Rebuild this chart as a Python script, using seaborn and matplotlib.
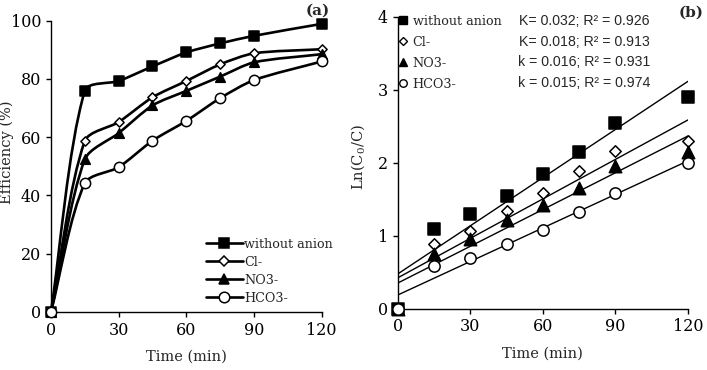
import numpy as np
import pandas as pd
import matplotlib
matplotlib.use("Agg")
import matplotlib.pyplot as plt
import seaborn as sns
from matplotlib.path import Path
from matplotlib.patches import PathPatch
from matplotlib.lines import Line2D

# ---------------- data ----------------
time_min = [0, 15, 30, 45, 60, 75, 90, 120]
series_names = ["without anion", "Cl-", "NO3-", "HCO3-"]

eff_without = [0, 76.0, 79.3, 84.3, 89.1, 92.2, 94.8, 98.9]
eff_cl = [0, 58.7, 65.2, 73.7, 79.3, 85.0, 88.8, 90.2]
eff_no3 = [0, 52.4, 61.4, 70.9, 75.9, 80.8, 85.7, 88.5]
eff_hco3 = [0, 44.2, 49.7, 58.8, 65.6, 73.4, 79.6, 86.0]

ln_without = [0, 1.09, 1.30, 1.54, 1.84, 2.15, 2.55, 2.90]
ln_cl = [0, 0.89, 1.06, 1.34, 1.58, 1.89, 2.16, 2.30]
ln_no3 = [0, 0.75, 0.96, 1.22, 1.42, 1.66, 1.95, 2.15]
ln_hco3 = [0, 0.59, 0.70, 0.89, 1.08, 1.32, 1.59, 1.99]

fit_labels = ["K= 0.032; R\u00b2 = 0.926", "K= 0.018; R\u00b2 = 0.913",
              "k = 0.016; R\u00b2 = 0.931", "k = 0.015; R\u00b2 = 0.974"]

x_ticks = [0, 30, 60, 90, 120]
eff_ticks = [0, 20, 40, 60, 80, 100]
ln_ticks = [0, 1, 2, 3, 4]

# ---------------- style ----------------
sns.set_style("ticks")
plt.rcParams["font.family"] = ["DejaVu Serif"]
plt.rcParams["mathtext.fontset"] = "dejavuserif"
plt.rcParams["axes.linewidth"] = 1.0
plt.rcParams["xtick.major.width"] = 1.0
plt.rcParams["ytick.major.width"] = 1.0
plt.rcParams["xtick.major.size"] = 3.5
plt.rcParams["ytick.major.size"] = 3.5
plt.rcParams["xtick.color"] = "black"
plt.rcParams["ytick.color"] = "black"
plt.rcParams["axes.edgecolor"] = "black"

eff_sets = [eff_without, eff_cl, eff_no3, eff_hco3]
ln_sets = [ln_without, ln_cl, ln_no3, ln_hco3]
markers = ["s", "D", "^", "o"]
faces = ["black", "white", "black", "white"]
sizes_a = [62, 22, 48, 55]
sizes_b = [66, 34, 80, 66]

fig = plt.figure(figsize=(7.07, 3.70), dpi=100)
ax_a = fig.add_axes([0.0721, 0.1568, 0.3829, 0.7873])
ax_b = fig.add_axes([0.5625, 0.1657, 0.4106, 0.7892])

TICK_FS = 11.5
LABEL_FS = 10.5
LEG_FS = 9.2


def smooth_path(ax, xs, ys, s=0.27):
    """Smoothed (Excel-style) bezier path through the data points,
    built in display space and mapped back to data coordinates."""
    pts = ax.transData.transform(np.column_stack([xs, ys]).astype(float))
    n = len(pts)
    tangents = []
    for i in range(n):
        p0 = pts[i - 1] if i > 0 else pts[i]
        p2 = pts[i + 1] if i < n - 1 else pts[i]
        d = p2 - p0
        tangents.append(d / np.linalg.norm(d))
    verts = [pts[0]]
    codes = [Path.MOVETO]
    for i in range(n - 1):
        p1, p2 = pts[i], pts[i + 1]
        L = np.linalg.norm(p2 - p1)
        c1 = p1 + tangents[i] * L * s
        c2 = p2 - tangents[i + 1] * L * s
        verts += [c1, c2, p2]
        codes += [Path.CURVE4] * 3
    verts = ax.transData.inverted().transform(np.array(verts))
    return Path(verts, codes)


# ---------------- panel (a) ----------------
ax_a.set_xlim(0, 120)
ax_a.set_ylim(0, 100)
for vals, mk, fc, sz in zip(eff_sets, markers, faces, sizes_a):
    patch = PathPatch(smooth_path(ax_a, time_min, vals), fill=False, edgecolor="black",
                      linewidth=1.9, transform=ax_a.transData, zorder=2,
                      clip_on=False, capstyle="round", joinstyle="round")
    ax_a.add_patch(patch)
    df = pd.DataFrame({"t": time_min, "v": vals})
    sns.scatterplot(data=df, x="t", y="v", marker=mk, s=sz, color=fc,
                    edgecolor="black", linewidth=1.1, ax=ax_a, zorder=3,
                    clip_on=False, legend=False)

ax_a.set_xlim(0, 120)
ax_a.set_ylim(0, 100)
ax_a.set_xticks(x_ticks)
ax_a.set_yticks(eff_ticks)
ax_a.tick_params(labelsize=TICK_FS, direction="out")
ax_a.set_xlabel("Time (min)", fontsize=LABEL_FS)
ax_a.set_ylabel("Efficiency (%)", fontsize=LABEL_FS)
ax_a.xaxis.set_label_coords(0.5, -0.13)
ax_a.yaxis.set_label_coords(-0.135, 0.55)
sns.despine(ax=ax_a)

leg_sizes_a = [7.6, 5.0, 7.6, 7.6]
handles_a = [Line2D([0], [0], color="black", lw=1.9, marker=mk, markersize=ms,
                    markerfacecolor=fc, markeredgecolor="black", markeredgewidth=1.1)
             for mk, fc, ms in zip(markers, faces, leg_sizes_a)]
fig.legend(handles_a, series_names, loc="lower left",
           bbox_to_anchor=(0.291, 0.176), frameon=False, fontsize=LEG_FS,
           handlelength=2.9, handletextpad=0.1, labelspacing=0.4,
           borderaxespad=0, borderpad=0)

fig.text(0.449, 0.972, "(a)", fontsize=11, fontweight="bold", ha="center", va="center")

# ---------------- panel (b) ----------------
for vals, mk, fc, sz in zip(ln_sets, markers, faces, sizes_b):
    df = pd.DataFrame({"t": time_min, "v": vals})
    sns.regplot(data=df, x="t", y="v", ci=None, scatter=False, ax=ax_b,
                line_kws={"color": "black", "lw": 1.0, "zorder": 2})
    sns.scatterplot(data=df, x="t", y="v", marker=mk, s=sz, color=fc,
                    edgecolor="black", linewidth=1.1, ax=ax_b, zorder=3,
                    clip_on=False, legend=False)

ax_b.set_xlim(0, 120)
ax_b.set_ylim(0, 4)
ax_b.set_xticks(x_ticks)
ax_b.set_yticks(ln_ticks)
ax_b.tick_params(labelsize=TICK_FS, direction="out")
ax_b.set_xlabel("Time (min)", fontsize=LABEL_FS)
ax_b.set_ylabel(r"Ln(C$_0$/C)", fontsize=LABEL_FS)
ax_b.xaxis.set_label_coords(0.5, -0.13)
ax_b.yaxis.set_label_coords(-0.105, 0.52)
sns.despine(ax=ax_b)

leg_sizes_b = [5.2, 4.2, 6.0, 5.4]
handles_b = [Line2D([0], [0], linestyle="none", marker=mk, markersize=ms,
                    markerfacecolor=fc, markeredgecolor="black", markeredgewidth=1.0)
             for mk, fc, ms in zip(markers, faces, leg_sizes_b)]
fig.legend(handles_b, series_names, loc="upper left",
           bbox_to_anchor=(0.563, 0.96), frameon=False, fontsize=LEG_FS,
           handlelength=0.8, handletextpad=0.35, labelspacing=0.62,
           borderaxespad=0, borderpad=0)

ann_y = [21, 41.7, 62.3, 83]
for lbl, yy in zip(fit_labels, ann_y):
    fig.text(584 / 707, 1 - yy / 370, lbl, fontsize=10.2, ha="center", va="center",
             family=["Liberation Sans", "DejaVu Sans"])

fig.text(0.977, 0.965, "(b)", fontsize=11, fontweight="bold", ha="center", va="center")

fig.savefig("out.png", dpi=100)
